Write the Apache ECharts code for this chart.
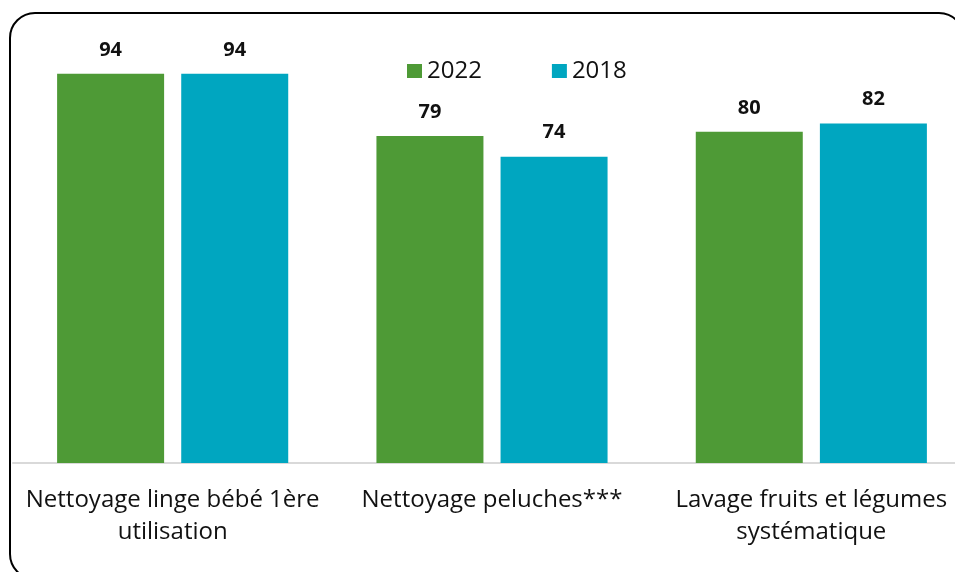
<!DOCTYPE html>
<html>
<head>
<meta charset="utf-8">
<script src="https://cdn.jsdelivr.net/npm/echarts@6/dist/echarts.min.js"></script>
<style>
html,body{margin:0;padding:0;background:#fff;overflow:hidden;}
#c{width:975px;height:572px;}
</style>
</head>
<body>
<div id="c"></div>
<script>
const categories = ["Nettoyage linge bébé 1ère\nutilisation", "Nettoyage peluches***", "Lavage fruits et légumes\nsystématique"];
const seriesNames = ["2022", "2018"];
const values2022 = [94, 79, 80];
const values2018 = [94, 74, 82];

const FONT = "'Open Sans', sans-serif";
const chart = echarts.init(document.getElementById('c'), null, {renderer: 'canvas'});
const labelStyle = {show: true, position: 'top', distance: 14, fontFamily: FONT, fontSize: 20, fontWeight: 'bold', color: '#111'};
chart.setOption({
  animation: false,
  backgroundColor: '#fff',
  graphic: [{
    type: 'rect', z: -1,
    shape: {x: 10, y: 13, width: 954, height: 566, r: 25},
    style: {fill: 'none', stroke: '#000', lineWidth: 2}
  }],
  legend: {
    left: 402, top: 54,
    itemWidth: 15, itemHeight: 14, itemGap: 70,
    icon: 'rect',
    textStyle: {fontFamily: FONT, fontSize: 24, color: '#111'},
    data: seriesNames
  },
  grid: {left: 13, width: 958, top: 49, bottom: 109},
  xAxis: {
    type: 'category', data: categories,
    axisTick: {show: false},
    axisLine: {lineStyle: {color: '#d9d9d9', width: 2}},
    axisLabel: {fontFamily: FONT, fontSize: 24, color: '#111', lineHeight: 32, margin: 21, interval: 0}
  },
  yAxis: {type: 'value', min: 0, max: 100, show: false, splitLine: {show: false}},
  series: [
    {name: '2022', type: 'bar', data: values2022, barWidth: 107, barGap: '16%', itemStyle: {color: '#4e9a36'}, label: labelStyle},
    {name: '2018', type: 'bar', data: values2018, barWidth: 107, barGap: '16%', itemStyle: {color: '#00a6c0'}, label: labelStyle}
  ]
});
</script>
</body>
</html>
